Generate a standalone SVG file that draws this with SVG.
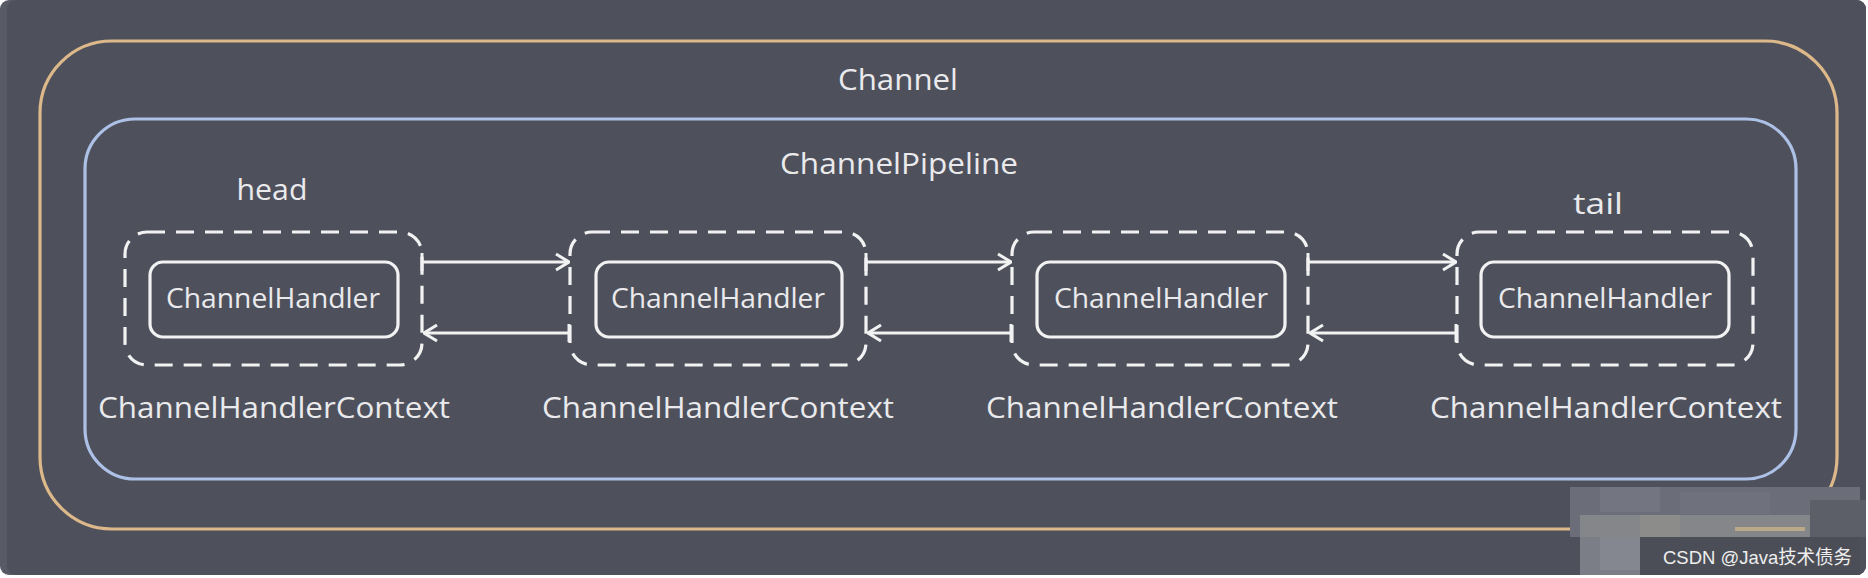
<svg xmlns="http://www.w3.org/2000/svg" width="1868" height="578" viewBox="0 0 1868 578">
  <style>
    .lbl { font-family: "Open Sans", "Noto Sans", "Liberation Sans", sans-serif; fill: #eaeaec; text-anchor: middle; }
    .big { font-size: 30px; }
    .hnd { font-size: 27px; }
    .ctx { fill: none; stroke: #f2f2f2; stroke-width: 3.2; stroke-dasharray: 18 11; }
    .inner { fill: none; stroke: #f2f2f2; stroke-width: 3.2; }
    .arr { fill: none; stroke: #f2f2f2; stroke-width: 3; marker-end: url(#ah); marker-start: url(#tk); }
  </style>
  <defs>
    <marker id="ah" viewBox="0 0 16 20" refX="15" refY="10" markerWidth="16" markerHeight="20" markerUnits="userSpaceOnUse" orient="auto">
      <path d="M2 2 L15 10 L2 18" fill="none" stroke="#f2f2f2" stroke-width="3"/>
    </marker>
    <marker id="tk" viewBox="0 0 4 20" refX="2" refY="10" markerWidth="4" markerHeight="20" markerUnits="userSpaceOnUse" orient="auto">
      <path d="M2 1 L2 19" stroke="#f2f2f2" stroke-width="3"/>
    </marker>
  </defs>
  <rect x="0" y="0" width="1868" height="578" fill="#ffffff"/>
  <rect x="0" y="0" width="1866" height="575" rx="9" fill="#585b66"/>
  <rect x="7" y="0" width="1859" height="575" rx="9" fill="#4e515c"/>

  <g id="channel">
    <rect x="40" y="41" width="1797" height="488" rx="72" fill="none" stroke="#dcb88a" stroke-width="3.2"/>
    <text class="lbl big" x="898" y="90" textLength="120" lengthAdjust="spacingAndGlyphs">Channel</text>
  </g>
  <g id="pipeline">
    <rect x="85" y="119" width="1711" height="360" rx="50" fill="none" stroke="#adc1e6" stroke-width="3.2"/>
    <text class="lbl big" x="899" y="174" textLength="238" lengthAdjust="spacingAndGlyphs">ChannelPipeline</text>
  </g>

  <g id="ctx1">
    <text class="lbl big" x="272" y="200" textLength="71" lengthAdjust="spacingAndGlyphs">head</text>
    <rect class="ctx" x="125" y="232" width="297" height="133" rx="22"/>
    <rect class="inner" x="150" y="262" width="248" height="75" rx="13"/>
    <text class="lbl hnd" x="273" y="308" textLength="214" lengthAdjust="spacingAndGlyphs">ChannelHandler</text>
    <text class="lbl big" x="274" y="418" textLength="352" lengthAdjust="spacingAndGlyphs">ChannelHandlerContext</text>
  </g>
  <g id="ctx2">
    <rect class="ctx" x="570" y="232" width="296" height="133" rx="22"/>
    <rect class="inner" x="596" y="262" width="246" height="75" rx="13"/>
    <text class="lbl hnd" x="718" y="308" textLength="214" lengthAdjust="spacingAndGlyphs">ChannelHandler</text>
    <text class="lbl big" x="718" y="418" textLength="352" lengthAdjust="spacingAndGlyphs">ChannelHandlerContext</text>
  </g>
  <g id="ctx3">
    <rect class="ctx" x="1012" y="232" width="296" height="133" rx="22"/>
    <rect class="inner" x="1037" y="262" width="248" height="75" rx="13"/>
    <text class="lbl hnd" x="1161" y="308" textLength="214" lengthAdjust="spacingAndGlyphs">ChannelHandler</text>
    <text class="lbl big" x="1162" y="418" textLength="352" lengthAdjust="spacingAndGlyphs">ChannelHandlerContext</text>
  </g>
  <g id="ctx4">
    <text class="lbl big" x="1598" y="214" textLength="50" lengthAdjust="spacingAndGlyphs">tail</text>
    <rect class="ctx" x="1457" y="232" width="296" height="133" rx="22"/>
    <rect class="inner" x="1481" y="262" width="248" height="75" rx="13"/>
    <text class="lbl hnd" x="1605" y="308" textLength="214" lengthAdjust="spacingAndGlyphs">ChannelHandler</text>
    <text class="lbl big" x="1606" y="418" textLength="352" lengthAdjust="spacingAndGlyphs">ChannelHandlerContext</text>
  </g>

  <g id="connectors">
    <line class="arr" x1="422" y1="262" x2="569" y2="262"/>
    <line class="arr" x1="569" y1="333" x2="424" y2="333"/>
    <line class="arr" x1="866" y1="262" x2="1011" y2="262"/>
    <line class="arr" x1="1011" y1="333" x2="868" y2="333"/>
    <line class="arr" x1="1308" y1="262" x2="1456" y2="262"/>
    <line class="arr" x1="1456" y1="333" x2="1310" y2="333"/>
  </g>

  <g id="mosaic">
    <rect x="1570" y="487" width="290" height="50" fill="#6b6e79"/>
    <rect x="1600" y="487" width="60" height="25" fill="#737680"/>
    <rect x="1680" y="492" width="90" height="22" fill="#6f727d"/>
    <rect x="1580" y="515" width="230" height="22" fill="#85868a"/>
    <rect x="1640" y="515" width="40" height="22" fill="#8c8c8b"/>
    <rect x="1735" y="527" width="70" height="4" fill="#b9a988"/>
    <rect x="1810" y="500" width="56" height="37" fill="#5c5f68"/>
    <rect x="1580" y="537" width="60" height="38" fill="#7b7e87"/>
    <rect x="1600" y="537" width="40" height="33" fill="#858790"/>
    <rect x="1640" y="537" width="220" height="38" fill="#4c4e57"/>
  </g>
  <text x="1663" y="564" font-family="'Liberation Sans', 'Noto Sans CJK SC', sans-serif" font-size="19" fill="#eeeeee" textLength="189" lengthAdjust="spacingAndGlyphs">CSDN @Java技术债务</text>
</svg>
